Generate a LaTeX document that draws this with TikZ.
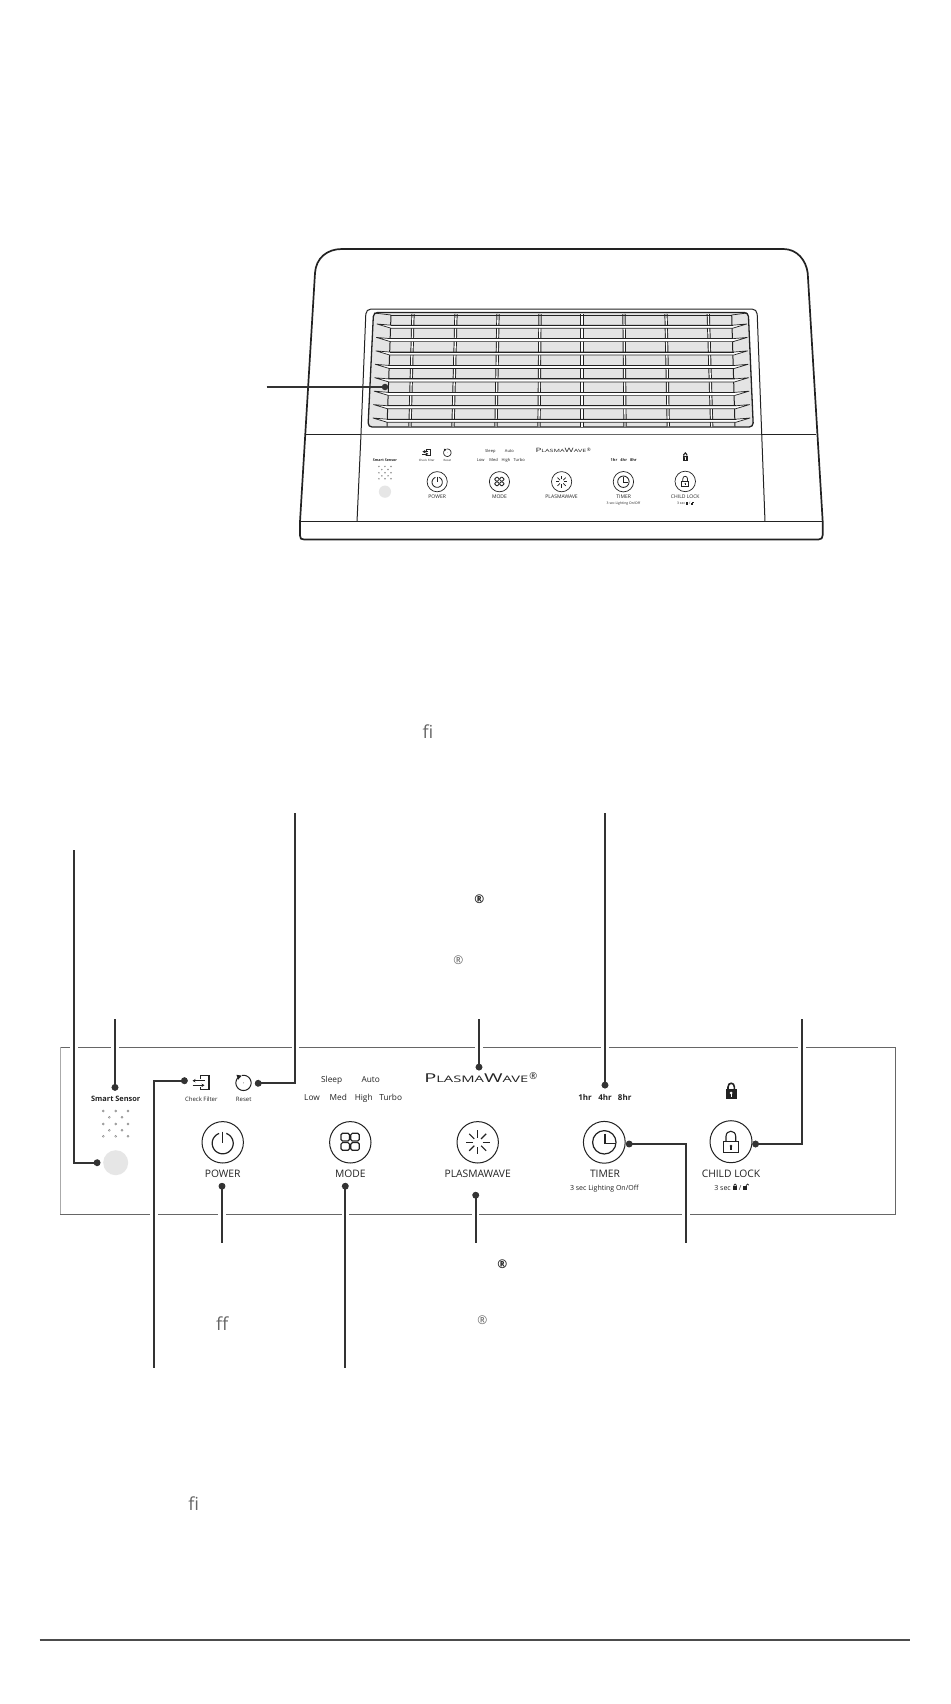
\documentclass[tikz,border=0pt]{standalone}
\usetikzlibrary{arrows.meta}
\usepackage{fontspec}
\usepackage{graphicx}
\setmainfont{Open Sans}
\newcommand\fsz[1]{\fontsize{#1}{#1}\selectfont}
\definecolor{ink}{HTML}{222222}
\definecolor{lead}{HTML}{333333}
\definecolor{frameD}{HTML}{666666}
\definecolor{frameL}{HTML}{AAAAAA}
\definecolor{ghost}{HTML}{666666}
\definecolor{sensorc}{HTML}{E6E6E6}
\definecolor{grillc}{HTML}{E4E4E4}
\newcommand\plw{1pt}
\tikzset{
  lab/.style={inner sep=0pt,anchor=base,text=ink},
  capt/.style={lab,font=\fsz{10.3}},
  smtxt/.style={lab,font=\fsz{8.3}},
  tinytxt/.style={lab,font=\fsz{6}},
  hrs/.style={lab,font=\fsz{8}\bfseries},
  pline/.style={draw=ink,line width=\plw},
  leadline/.style={draw=lead,line width=2.2pt,preaction={draw=white,line width=7.5pt}},
  plainlead/.style={draw=lead,line width=2pt},
  leaddot/.style={circle,fill=lead,inner sep=0pt,minimum size=6.8pt},
  ghosttext/.style={inner sep=0pt,anchor=center,text=ghost},
  devline/.style={draw=ink,line width=1pt},
}
\newcommand\panelcontent{%
  % sensor
  \node[lab,font=\fsz{7.4}\bfseries] (ss) at (115.7,1101.7) {Smart Sensor};
  \foreach \a/\b in {103.3/1111,115.7/1111,128/1111,109.3/1117.3,122/1117.3,103.3/1124,115.7/1124,128/1124,109.3/1130.3,122/1130.3,103.3/1136.3,115.7/1136.3,128/1136.3}
    \draw[draw=black!45,line width=.5pt] (\a,\b) circle (1pt);
  \fill[sensorc] (115.7,1162.7) circle (12.5pt);
  % check filter
  \draw[pline] (200.5,1079) -- (200.5,1075.7) -- (209.3,1075.7) -- (209.3,1089.3) -- (200.5,1089.3) -- (200.5,1086.5);
  \draw[pline,line width=1.8*\plw] (209.3,1075.7) -- (209.3,1089.3);
  \draw[pline,-{Stealth[length=3pt,width=3.4pt]}] (204.5,1080.7) -- (192.5,1080.7);
  \draw[pline,-{Stealth[length=3pt,width=3.4pt]}] (192.5,1085.3) -- (204.5,1085.3);
  \node[tinytxt] (cf) at (201.3,1101.3) {Check Filter};
  % reset
  \draw[pline,domain=-235:100,samples=40,variable=\t] plot ({243.5+7.6*cos(\t)},{1082.9-7.6*sin(\t)});
  \fill[ink] (236.4,1074.8) -- (241.8,1075.6) -- (238.2,1079.6) -- cycle;
  \fill[ink!60] (243.5,1082.9) circle (.5pt);
  \node[tinytxt] (rs) at (243.7,1101.3) {Reset};
  % power
  \draw[pline] (222.7,1142.3) circle (20.7pt);
  \draw[pline,line width=1.2*\plw,domain=-250:70,samples=40,variable=\t] plot ({222.7+10.5*cos(\t)},{1143.3-10.5*sin(\t)});
  \draw[pline,line width=1.2*\plw] (222.7,1131.7) -- (222.7,1143.3);
  \node[capt] (pow) at (222.7,1177.3) {POWER};
  % mode
  \node[smtxt] (sleep) at (331.7,1082.3) {Sleep};
  \node[smtxt] (auto) at (370.7,1082.3) {Auto};
  \node[smtxt] (low) at (312,1100.7) {Low};
  \node[smtxt] (med) at (338.3,1100.7) {Med};
  \node[smtxt] (high) at (363.7,1100.7) {High};
  \node[smtxt] (turbo) at (390.7,1100.7) {Turbo};
  \draw[pline] (350.3,1142.3) circle (20.7pt);
  \foreach \a/\b in {341/1133.3,350.8/1133.3,341/1142.6,350.8/1142.6}
    \draw[pline,line width=1.2*\plw,rounded corners=1.5pt] (\a,\b) rectangle ++(8.5,7.7);
  \node[capt] (mod) at (350.3,1177.3) {MODE};
  % plasmawave
  \node[lab] (logo) at (476.3,1082.3) {\scalebox{1.64}[1]{{\fsz{12.2}P}{\fsz{9}LASMA}{\fsz{12.2}W}{\fsz{9}AVE}}};
  \node[inner sep=0pt,text=ink,font=\fsz{9.5}] (logor) at (533.3,1076.3) {®};
  \draw[pline] (477.7,1142.3) circle (20.7pt);
  \foreach \r in {0,45,...,315}
    \draw[pline,line width=1.1*\plw] ({477.7+4.8*cos(\r)},{1142.3+4.8*sin(\r)}) -- ({477.7+12*cos(\r)},{1142.3+12*sin(\r)});
  \node[capt] (pw) at (477.7,1177.3) {PLASMAWAVE};
  % timer
  \node[hrs] (h1) at (585,1100.7) {1hr};
  \node[hrs] (h4) at (605,1100.7) {4hr};
  \node[hrs] (h8) at (624.7,1100.7) {8hr};
  \draw[pline] (604.3,1142.3) circle (20.9pt);
  \draw[pline,line width=1.2*\plw] (604.3,1142.3) circle (11.7pt);
  \draw[pline,line width=1.2*\plw] (605,1133.5) -- (605,1143.3) -- (614.5,1143.3);
  \node[capt] (tim) at (605,1177.3) {TIMER};
  \node[lab,font=\fsz{7}] (lighting) at (604.3,1190) {3 sec Lighting On/Off};
  % child lock
  \fill[ink] (725.7,1088.7) rectangle (736.7,1099.3);
  \draw[pline,line width=1.6*\plw] (728,1089) -- (728,1087) .. controls (728,1082) and (734.4,1082) .. (734.4,1087) -- (734.4,1089);
  \fill[white] (731.2,1093) circle (1.5pt);
  \fill[white] (730.5,1093) rectangle (731.9,1097);
  \draw[pline] (731,1141.7) circle (21pt);
  \draw[pline,line width=1.1*\plw] (723.3,1141.7) rectangle (738.3,1152.7);
  \draw[pline,line width=1.1*\plw] (726,1141.7) -- (726,1136.5) .. controls (726,1129.5) and (735.7,1129.5) .. (735.7,1136.5) -- (735.7,1141.7);
  \fill[ink] (731,1146) circle (1.3pt);
  \fill[ink] (730.4,1146) rectangle (731.6,1149.5);
  \node[capt] (cl) at (731,1177.3) {CHILD LOCK};
  \node[lab,font=\fsz{7},anchor=base east] (clsec) at (731,1190) {3 sec};
  \fill[ink] (733.2,1186.2) rectangle (737,1190);
  \draw[ink,line width=.7pt] (733.9,1186.2) -- (733.9,1185.2) .. controls (733.9,1183.6) and (736.3,1183.6) .. (736.3,1185.2) -- (736.3,1186.2);
  \node[lab,font=\fsz{7}] (clslash) at (740.2,1190) {/};
  \fill[ink] (743.2,1186.2) rectangle (747,1190);
  \draw[ink,line width=.7pt] (746.3,1186.2) -- (746.3,1185.2) .. controls (746.3,1183.6) and (748.8,1183.6) .. (748.8,1185.2);
}
\begin{document}
\begin{tikzpicture}[x=1pt,y=-1pt]
\useasboundingbox (0,0) rectangle (950,1704);
\fill[white] (0,0) rectangle (950,1704);

% --- device ---
\draw[draw=ink,line width=1.7pt,line join=round] (342,249) -- (783.3,249) .. controls (797,249) and (806,260) .. (807.7,273)
  -- (822.7,521.7) -- (822.7,535) .. controls (822.7,538) and (821.5,539.5) .. (818.5,539.5) -- (304,539.5)
  .. controls (301,539.5) and (300,538.5) .. (300,535.5) -- (300,521.7) -- (315,273) .. controls (316,258) and (327,249) .. (342,249) -- cycle;
\draw[devline] (305.3,434) -- (361,434);
\draw[devline] (761.7,434) -- (816,434);
\draw[draw=frameD,line width=1pt] (361,434) -- (761.7,434);
\draw[devline] (300,521.7) -- (822.7,521.7);
\draw[devline,rounded corners=5pt] (357,521.7) -- (361,434) -- (366,309) -- (757,309) -- (761.7,434) -- (765,521.7);
% grille
\draw[draw=ink,line width=1.3pt,fill=grillc,rounded corners=4pt] (373.5,312.5) -- (748.3,312.5) -- (753.3,427) -- (368,427) -- cycle;
\foreach \a/\b in {413/410,456/453,498/496,540/539,582/582,624/625,666/668.3,708.3/711.7}{
  \draw[draw=ink,line width=3.2pt] (\a,314) -- (\b,426.5);
  \draw[draw=white,line width=1.3pt] (\a,314) -- (\b,426.5);
}
\draw[devline] (391,315) -- (387,426.5);
\draw[devline] (731.7,315) -- (735,426.5);
\draw[draw=ink,line width=1pt] (391,315) -- (731.7,315);
\draw[draw=ink,line width=.7pt] (374,313) -- (391,315);
\draw[draw=ink,line width=.7pt] (747,313) -- (731.7,315);
\foreach \i in {0,...,7}{
  \pgfmathsetmacro\yy{324+13.43*\i}
  \pgfmathsetmacro\ll{377-4*\i/7}
  \pgfmathsetmacro\rr{746.7+3.3*\i/7}
  \draw[draw=ink,line width=.7pt,fill=white,line join=round] (\ll,\yy) -- (\ll+14,\yy+1.2) -- (\rr-14,\yy+1.2) -- (\rr,\yy)
     -- (\rr-14,\yy+4.2) -- (\ll+14,\yy+4.2) -- cycle;
  \draw[draw=ink,line width=1.1pt] (\ll+14,\yy+1.2) -- (\rr-14,\yy+1.2);
}
% mini panel
\renewcommand\plw{.7pt}
\begin{scope}[name prefix=mini-,shift={(328.5,-75.74)},scale=.488,transform shape]
\panelcontent
\end{scope}
\node[leaddot,minimum size=6.5pt] (grilldot) at (385,387) {};
\coordinate (grillend) at (266.5,387);
\draw[plainlead] (grillend) -- (grilldot.center);

% --- big panel ---
\renewcommand\plw{1pt}
\draw[draw=frameD,line width=1pt] (60,1047) -- (895.7,1047) -- (895.7,1214) -- (60,1214);
\draw[draw=frameL,line width=1pt] (60,1047) -- (60,1214);
\panelcontent

% --- connectors ---
\node[leaddot] (dA) at (97,1162.7) {};
\coordinate (eA) at (74,850);
\node[leaddot] (dB) at (115,1087.3) {};
\coordinate (eB) at (115,1019);
\node[leaddot] (dC) at (184.3,1080.7) {};
\coordinate (eC) at (154.2,1367.7);
\node[leaddot] (dD) at (258.3,1083.3) {};
\coordinate (eD) at (295.3,813);
\node[leaddot] (dE) at (222,1186.3) {};
\coordinate (eE) at (222,1242.7);
\node[leaddot] (dF) at (345.3,1186.3) {};
\coordinate (eF) at (345.3,1367.7);
\node[leaddot] (dG) at (479,1067) {};
\coordinate (eG) at (479,1019);
\node[leaddot] (dH) at (475.7,1195.3) {};
\coordinate (eH) at (475.7,1242.7);
\node[leaddot] (dI) at (605,1085) {};
\coordinate (eI) at (605,813);
\node[leaddot] (dJ) at (629.3,1144) {};
\coordinate (eJ) at (686,1242.7);
\node[leaddot] (dK) at (755.7,1144) {};
\coordinate (eK) at (802,1019);
\draw[leadline] (eA) |- (dA.center);
\draw[leadline] (eB) -- (dB.center);
\draw[leadline] (eC) |- (dC.center);
\draw[leadline] (eD) |- (dD.center);
\draw[leadline] (eE) -- (dE.center);
\draw[leadline] (eF) -- (dF.center);
\draw[leadline] (eG) -- (dG.center);
\draw[leadline] (eH) -- (dH.center);
\draw[leadline] (eI) -- (dI.center);
\draw[leadline] (eJ) |- (dJ.center);
\draw[leadline] (eK) |- (dK.center);
\foreach \n in {dA,dB,dC,dD,dE,dF,dG,dH,dI,dJ,dK}
  \fill[lead] (\n.center) circle (3.4pt);

% --- stray glyphs ---
\node[ghosttext,font=\fsz{18}] (fiA) at (428,732) {ﬁ};
\node[ghosttext,font=\fsz{18}] (ffA) at (222.3,1324) {ﬀ};
\node[ghosttext,font=\fsz{18}] (fiB) at (193.7,1503.3) {ﬁ};
\node[ghosttext,text=ink,font=\fsz{12}\bfseries] (rA) at (479.3,899.7) {®};
\node[ghosttext,font=\fsz{12}] (rB) at (458.3,960.3) {®};
\node[ghosttext,text=ink,font=\fsz{12}\bfseries] (rC) at (502.3,1264.3) {®};
\node[ghosttext,font=\fsz{12}] (rD) at (482.3,1320.3) {®};

% --- foot rule ---
\coordinate (ruleL) at (39.5,1640);
\coordinate (ruleR) at (910,1640);
\draw[draw=black!70,line width=1.6pt] (ruleL) -- (ruleR);
\end{tikzpicture}
\end{document}
